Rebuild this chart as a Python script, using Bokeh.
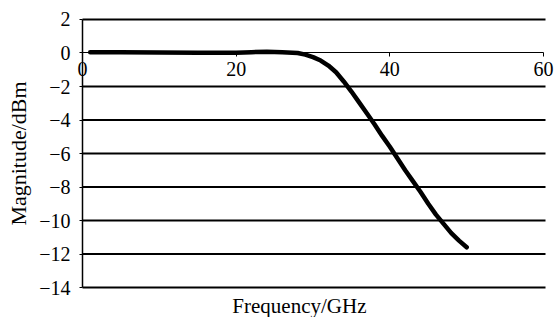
from bokeh.plotting import figure
from bokeh.models import FixedTicker, Label, Range1d
from bokeh.embed import file_html
from bokeh.resources import INLINE

# data
freq = [1, 5, 10, 15, 20, 22, 24, 26, 28, 29, 30, 31, 32, 33, 34, 35, 36, 37, 38,
        39, 40, 41, 42, 43, 44, 45, 46, 47, 48, 49, 50]
mag = [0.05, 0.05, 0.03, 0.02, 0.02, 0.05, 0.08, 0.05, 0.0, -0.1, -0.25, -0.45,
       -0.75, -1.15, -1.7, -2.3, -2.95, -3.6, -4.25, -4.95, -5.6, -6.3, -7.0,
       -7.65, -8.3, -9.0, -9.65, -10.2, -10.75, -11.2, -11.6]
x_ticks = [0, 20, 40, 60]
y_ticks = [2, 0, -2, -4, -6, -8, -10, -12, -14]
grid_ticks = [2, -2, -4, -6, -8, -10, -12, -14]
grid_end = 60.26

FONT = "Liberation Serif"

# the frame covers the whole canvas; axes sit at x = 0 and y = 0
p = figure(width=554, height=317, output_backend="svg", toolbar_location=None,
           x_range=Range1d(-10.673, 61.43), y_range=Range1d(-15.79, 3.134),
           min_border_left=0, min_border_right=0,
           min_border_top=0, min_border_bottom=0)
p.outline_line_color = None
p.background_fill_color = "white"
p.border_fill_color = "white"
p.xgrid.visible = False
p.ygrid.visible = False

# horizontal grid lines
p.segment(x0=[0] * len(grid_ticks), y0=grid_ticks,
          x1=[grid_end] * len(grid_ticks), y1=grid_ticks,
          line_color="black", line_width=2)

# x axis crossing at y = 0
xa = p.xaxis[0]
xa.fixed_location = 0
xa.bounds = (x_ticks[0], x_ticks[-1])
xa.ticker = FixedTicker(ticks=x_ticks)
xa.major_label_text_font = FONT
xa.major_label_text_font_size = "20px"
xa.major_label_text_color = "black"
xa.major_tick_out = 4
xa.major_tick_in = 0
xa.minor_tick_out = 0
xa.minor_tick_in = 0
xa.major_label_standoff = 5
xa.axis_line_color = "black"
xa.axis_line_width = 1
xa.major_tick_line_color = "black"

# y axis at x = 0
ya = p.yaxis[0]
ya.fixed_location = 0
ya.bounds = (y_ticks[-1], y_ticks[0])
ya.ticker = FixedTicker(ticks=y_ticks)
ya.major_label_overrides = {t: (str(t) if t >= 0 else "\u2212" + str(-t)) for t in y_ticks}
ya.major_label_text_font = FONT
ya.major_label_text_font_size = "20px"
ya.major_label_text_color = "black"
ya.major_tick_out = 3
ya.major_tick_in = 0
ya.minor_tick_out = 0
ya.minor_tick_in = 0
ya.major_label_standoff = 9
ya.axis_line_color = "black"
ya.axis_line_width = 1.5
ya.major_tick_line_color = "black"
ya.axis_label = "Magnitude/dBm"
ya.axis_label_text_font = FONT
ya.axis_label_text_font_size = "22px"
ya.axis_label_text_font_style = "normal"
ya.axis_label_text_color = "black"
ya.axis_label_standoff = 5

# curve
p.line(freq, mag, line_color="black", line_width=4.5, line_cap="round",
       line_join="round")

p.add_layout(Label(x=19.5, y=-14.4, text="Frequency/GHz", text_align="left",
                   text_baseline="top", text_font=FONT, text_font_size="21px",
                   text_color="black"))

open("out.html", "w").write(file_html(p, INLINE))
